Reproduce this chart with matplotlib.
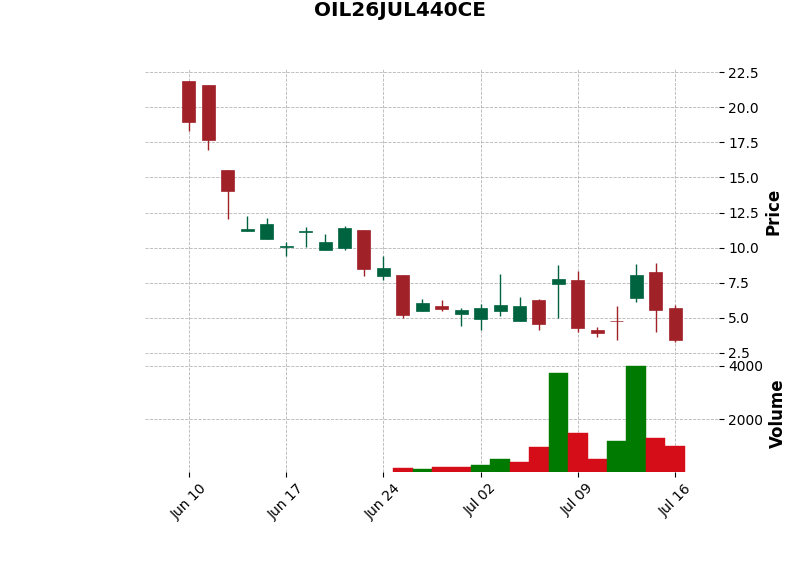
import matplotlib
matplotlib.use("Agg")
import matplotlib.pyplot as plt
from matplotlib.ticker import MultipleLocator, FixedLocator, FuncFormatter, FormatStrFormatter
import numpy as np
import pandas as pd

title = "OIL26JUL440CE"
dates = pd.to_datetime([
    "2024-06-10", "2024-06-11", "2024-06-12", "2024-06-13", "2024-06-14",
    "2024-06-17", "2024-06-18", "2024-06-19", "2024-06-20", "2024-06-21",
    "2024-06-24", "2024-06-25", "2024-06-26", "2024-06-27", "2024-06-28",
    "2024-07-02", "2024-07-03", "2024-07-04", "2024-07-05", "2024-07-08",
    "2024-07-09", "2024-07-10", "2024-07-11", "2024-07-12", "2024-07-15",
    "2024-07-16"])
opens = [21.84, 21.56, 15.53, 11.20, 10.62, 10.05, 11.10, 9.84, 9.99, 11.26,
         7.95, 8.03, 5.48, 5.88, 5.26, 4.91, 5.48, 4.81, 6.26, 7.44,
         7.72, 4.13, 4.80, 6.44, 8.24, 5.69]
highs = [21.85, 21.57, 15.53, 12.23, 12.13, 10.39, 11.50, 10.95, 11.57, 11.27,
         9.37, 8.07, 6.37, 6.28, 5.71, 5.97, 8.12, 6.49, 6.37, 8.80,
         8.36, 4.37, 5.83, 8.83, 8.92, 5.90]
lows = [18.34, 16.97, 12.02, 11.19, 10.60, 9.42, 10.03, 9.83, 9.84, 7.98,
        7.72, 5.00, 5.47, 5.50, 4.44, 4.15, 5.14, 4.80, 4.15, 4.96,
        4.01, 3.61, 3.42, 6.11, 3.97, 3.30]
closes = [18.93, 17.64, 14.02, 11.30, 11.71, 10.12, 11.22, 10.41, 11.40, 8.50,
          8.57, 5.17, 6.09, 5.62, 5.55, 5.69, 5.95, 5.81, 4.53, 7.74,
          4.25, 3.89, 4.75, 8.07, 5.59, 3.40]
volumes = [0, 0, 0, 0, 0, 0, 0, 0, 0, 0,
           0, 173, 135, 210, 210, 285, 510, 398, 960, 3737,
           1486, 510, 1186, 3974, 1298, 998]

up_c, down_c = "#006340", "#A02128"
vup_c, vdown_c = "#007a00", "#d50d18"

n = len(closes)
x = np.arange(n)
o = np.array(opens); h = np.array(highs); l = np.array(lows); c = np.array(closes)
v = np.array(volumes, dtype=float)

fig = plt.figure(figsize=(8, 5.75), dpi=100)
ax1 = fig.add_axes([0.18125, 0.3830, 0.7175, 0.4984])
ax2 = fig.add_axes([0.18125, 0.1800, 0.7175, 0.2012], sharex=ax1)

grid_kw = dict(color="#a8a8a8", linestyle="--", linewidth=0.6, alpha=0.85)
for ax in (ax1, ax2):
    ax.set_axisbelow(True)
    ax.grid(True, **grid_kw)
    for s in ax.spines.values():
        s.set_visible(False)
    ax.yaxis.tick_right()
    ax.yaxis.set_label_position("right")
    ax.tick_params(axis="y", direction="out", length=3.5, labelsize=10, pad=3)

cols = [up_c if cc >= oo else down_c for oo, cc in zip(o, c)]
ax1.vlines(x, l, h, colors=cols, linewidth=1.0, zorder=2)
bottoms = np.minimum(o, c)
heights = np.maximum(np.abs(c - o), 0.06)
ax1.bar(x, heights, bottom=bottoms, width=0.67, color=cols, edgecolor=cols,
        linewidth=0.5, zorder=3)

miny, maxy = l.min(), h.max()
pad = 0.05 * (maxy - miny)
ax1.set_ylim(miny - pad, maxy + pad)
ax1.yaxis.set_major_locator(MultipleLocator(2.5))
ax1.yaxis.set_major_formatter(FormatStrFormatter("%.1f"))
ax1.set_ylabel("Price", fontsize=12, fontweight="bold")
ax1.tick_params(axis="x", length=0, labelbottom=False)
ax1.set_xlim(-2.26, n - 1 + 2.26)

prev = np.concatenate([[c[0]], c[:-1]])
vcols = [vup_c if cc >= pp else vdown_c for cc, pp in zip(c, prev)]
ax2.bar(x, v, width=1.0, color=vcols, edgecolor=vcols, linewidth=0.3, zorder=3)
vmin_nz = v[v > 0].min()
ax2.set_ylim(0.3 * vmin_nz, 1.1 * v.max())
ax2.yaxis.set_major_locator(MultipleLocator(2000))
ax2.yaxis.set_major_formatter(FormatStrFormatter("%d"))
ax2.set_ylabel("Volume", fontsize=12, fontweight="bold")

tick_idx = list(range(0, n, 5))
ax2.xaxis.set_major_locator(FixedLocator(tick_idx))
ax2.xaxis.set_major_formatter(FuncFormatter(
    lambda val, pos: dates[int(round(val))].strftime("%b %d") if 0 <= int(round(val)) < n else ""))
ax2.tick_params(axis="x", direction="out", length=3.5, labelsize=10)
for lab in ax2.get_xticklabels():
    lab.set_rotation(45)
    lab.set_ha("center")

fig.suptitle(title, fontsize=14.4, fontweight="bold", y=0.998, va="top")

fig.savefig("out.png", dpi=100)
